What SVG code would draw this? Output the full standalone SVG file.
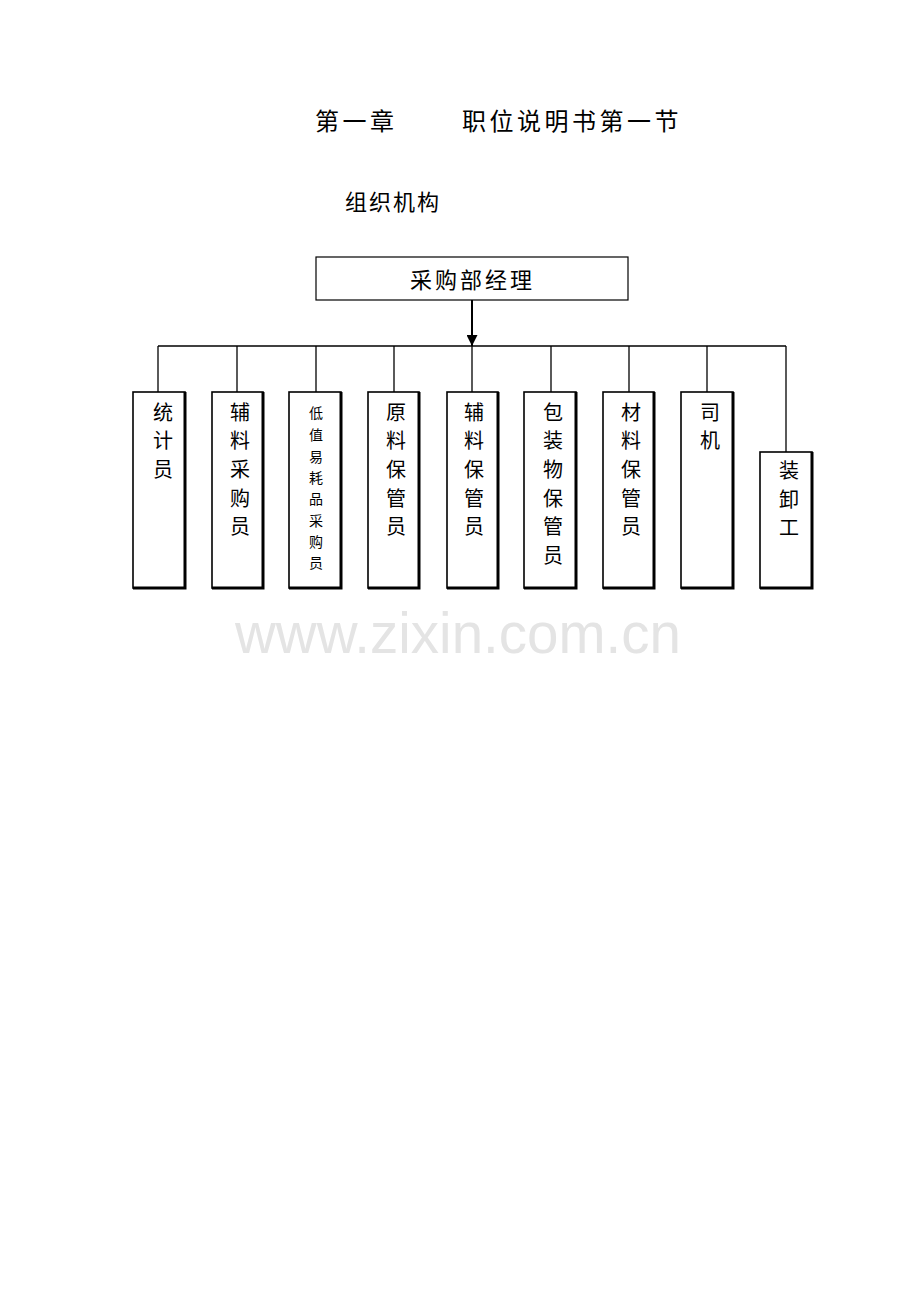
<svg xmlns="http://www.w3.org/2000/svg" width="920" height="1307" viewBox="0 0 920 1307">
<style>
.t{font-family:"Liberation Serif","Noto Sans CJK SC",serif;fill:#000}
.h{font-size:24px;letter-spacing:3.5px}
.s{font-size:22px;letter-spacing:2px}
.m{font-size:22px;letter-spacing:3px}
.b{font-size:20px;text-anchor:middle}
.bs{font-size:14px;text-anchor:middle}
.box{fill:#fff;stroke:#000;stroke-width:1.6}
.sh{fill:none;stroke:#000;stroke-width:3}
.ln{fill:none;stroke:#000;stroke-width:1.3}
.wm{font-family:"Liberation Sans",Arial,sans-serif;font-size:58px;fill:#e4e4e4}
</style>
<defs>
<marker id="ah" viewBox="0 0 10 10" refX="10" refY="5" markerWidth="11" markerHeight="11" markerUnits="userSpaceOnUse" orient="auto">
<path d="M0,0 L10,5 L0,10 z" fill="#000"/>
</marker>
</defs>
<rect width="920" height="1307" fill="#fff"/>
<g id="title">
<text class="t h" y="130"><tspan x="315">第一章</tspan><tspan x="462">职位说明书第一节</tspan></text>
<text class="t s" x="345" y="210">组织机构</text>
</g>
<g id="connectors">
<line class="ln" x1="472" y1="300" x2="472" y2="346" stroke-width="2" style="stroke-width:2" marker-end="url(#ah)"/>
<line class="ln" x1="158" y1="346" x2="786" y2="346"/>
<line class="ln" x1="158" y1="346" x2="158" y2="392"/>
<line class="ln" x1="237" y1="346" x2="237" y2="392"/>
<line class="ln" x1="316" y1="346" x2="316" y2="392"/>
<line class="ln" x1="394" y1="346" x2="394" y2="392"/>
<line class="ln" x1="472" y1="346" x2="472" y2="392"/>
<line class="ln" x1="551" y1="346" x2="551" y2="392"/>
<line class="ln" x1="629" y1="346" x2="629" y2="392"/>
<line class="ln" x1="707" y1="346" x2="707" y2="392"/>
<line class="ln" x1="786" y1="346" x2="786" y2="452"/>
</g>
<g id="manager">
<rect x="316" y="257" width="312" height="43" fill="#fff" stroke="#000" stroke-width="1.2"/>
<text class="t m" x="410" y="288">采购部经理</text>
</g>
<g id="n1">
<rect class="box" x="133" y="392" width="52" height="196"/>
<polyline class="sh" points="185,392 185,588 133,588"/>
<text class="t b" x="163"><tspan x="163" y="420">统</tspan><tspan x="163" y="448">计</tspan><tspan x="163" y="477">员</tspan></text>
</g>
<g id="n2">
<rect class="box" x="212" y="392" width="51" height="196"/>
<polyline class="sh" points="263,392 263,588 212,588"/>
<text class="t b"><tspan x="240" y="420">辅</tspan><tspan x="240" y="448">料</tspan><tspan x="240" y="477">采</tspan><tspan x="240" y="506">购</tspan><tspan x="240" y="534">员</tspan></text>
</g>
<g id="n3">
<rect class="box" x="289" y="392" width="52" height="196"/>
<polyline class="sh" points="341,392 341,588 289,588"/>
<text class="t bs"><tspan x="316" y="418">低</tspan><tspan x="316" y="440">值</tspan><tspan x="316" y="462">易</tspan><tspan x="316" y="483">耗</tspan><tspan x="316" y="504">品</tspan><tspan x="316" y="526">采</tspan><tspan x="316" y="547">购</tspan><tspan x="316" y="568">员</tspan></text>
</g>
<g id="n4">
<rect class="box" x="368" y="392" width="51" height="196"/>
<polyline class="sh" points="419,392 419,588 368,588"/>
<text class="t b"><tspan x="396" y="420">原</tspan><tspan x="396" y="448">料</tspan><tspan x="396" y="477">保</tspan><tspan x="396" y="506">管</tspan><tspan x="396" y="534">员</tspan></text>
</g>
<g id="n5">
<rect class="box" x="447" y="392" width="51" height="196"/>
<polyline class="sh" points="498,392 498,588 447,588"/>
<text class="t b"><tspan x="474" y="420">辅</tspan><tspan x="474" y="448">料</tspan><tspan x="474" y="477">保</tspan><tspan x="474" y="506">管</tspan><tspan x="474" y="534">员</tspan></text>
</g>
<g id="n6">
<rect class="box" x="524" y="392" width="52" height="196"/>
<polyline class="sh" points="576,392 576,588 524,588"/>
<text class="t b"><tspan x="553" y="420">包</tspan><tspan x="553" y="448">装</tspan><tspan x="553" y="477">物</tspan><tspan x="553" y="506">保</tspan><tspan x="553" y="534">管</tspan><tspan x="553" y="563">员</tspan></text>
</g>
<g id="n7">
<rect class="box" x="603" y="392" width="51" height="196"/>
<polyline class="sh" points="654,392 654,588 603,588"/>
<text class="t b"><tspan x="631" y="420">材</tspan><tspan x="631" y="448">料</tspan><tspan x="631" y="477">保</tspan><tspan x="631" y="506">管</tspan><tspan x="631" y="534">员</tspan></text>
</g>
<g id="n8">
<rect class="box" x="681" y="392" width="52" height="196"/>
<polyline class="sh" points="733,392 733,588 681,588"/>
<text class="t b"><tspan x="710" y="420">司</tspan><tspan x="710" y="448">机</tspan></text>
</g>
<g id="n9">
<rect class="box" x="760" y="452" width="52" height="136"/>
<polyline class="sh" points="812,452 812,588 760,588"/>
<text class="t b"><tspan x="789" y="478">装</tspan><tspan x="789" y="507">卸</tspan><tspan x="789" y="535">工</tspan></text>
</g>
<text class="wm" x="235" y="653" textLength="446" lengthAdjust="spacingAndGlyphs">www.zixin.com.cn</text>
</svg>
